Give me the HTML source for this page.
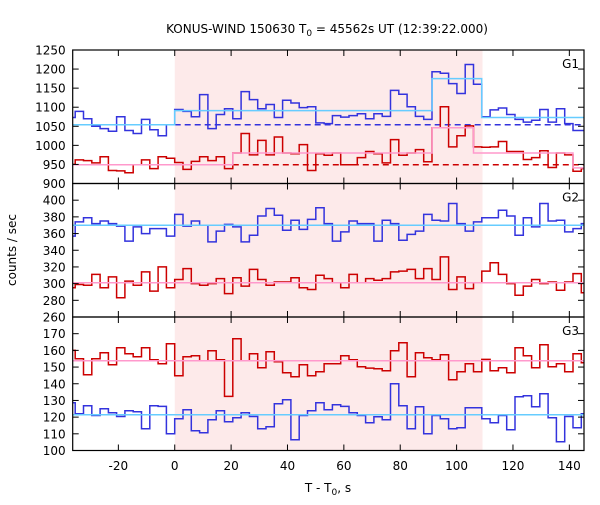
<!DOCTYPE html>
<html><head><meta charset="utf-8"><style>
body{margin:0;background:#fff;}
svg{font-family:"DejaVu Sans","Liberation Sans",sans-serif;font-size:12px;}
</style></head><body>
<svg id="chart" width="600" height="500" viewBox="0 0 600 500" xmlns="http://www.w3.org/2000/svg">
<rect width="600" height="500" fill="#fff"/>
<text x="327" y="33" text-anchor="middle" fill="#000">KONUS-WIND 150630 T<tspan font-size="9" dy="3">0</tspan><tspan dy="-3"> = 45562s UT (12:39:22.000)</tspan></text>
<text x="16" y="250" text-anchor="middle" transform="rotate(-90 16 250)" fill="#000">counts / sec</text>
<text x="328" y="492" text-anchor="middle" fill="#000">T - T<tspan font-size="9" dy="3">0</tspan><tspan dy="-3">, s</tspan></text>
<g id="layer"></g>
</svg>
<script>
const binWidth = 2.944;
const firstBinIndex = -13;
const xTicks = [-20, 0, 20, 40, 60, 80, 100, 120, 140];
const interval = [0, 109.2];
const g1Ticks = [900, 950, 1000, 1050, 1100, 1150, 1200, 1250];
const g2Ticks = [260, 280, 300, 320, 340, 360, 380, 400];
const g3Ticks = [100, 110, 120, 130, 140, 150, 160, 170];
const g1Blue = [1073,1089,1070,1050,1044,1037,1075,1039,1031,1068,1041,1025,1054,1094,1089,1075,1133,1044,1081,1096,1070,1141,1120,1096,1107,1073,1118,1111,1099,1101,1059,1057,1078,1074,1078,1083,1070,1083,1076,1144,1134,1101,1076,1068,1193,1189,1162,1136,1212,1160,1075,1093,1098,1081,1068,1061,1066,1094,1061,1096,1057,1039,1039];
const g1Red = [950,962,960,954,970,934,933,928,949,962,939,970,966,955,937,958,970,960,970,939,980,1031,975,1013,975,1022,980,978,1002,934,978,974,980,949,949,968,984,978,954,1015,974,980,989,957,1046,1101,996,1025,1051,996,995,996,1010,984,984,963,968,986,942,980,975,932,939];
const g2Blue = [357,374,379,372,375,372,369,351,368,360,366,366,357,383,369,375,370,350,363,371,368,350,358,381,390,382,364,376,365,377,391,372,351,362,375,372,372,351,376,372,352,359,363,383,376,375,396,372,363,374,379,379,388,381,358,379,368,396,375,376,362,366,372];
const g2Red = [295,299,298,311,295,308,283,303,298,314,291,320,295,305,318,300,298,300,306,288,307,297,317,305,298,302,302,307,295,293,310,306,301,295,311,301,306,304,306,314,315,317,306,318,305,332,293,308,294,301,315,325,311,300,286,297,305,300,302,292,302,312,289];
const g3Red = [160,155,145.4,155,158.6,151.4,161.6,158,156.2,161.6,154.4,152,164,144.8,156.2,156.8,153.8,159.8,154.4,132.4,167,153.8,158,149.6,159.2,153.2,146.6,144.2,151.4,144.8,147.2,152,152,156.8,154.4,150.2,149.4,149,147.8,159.8,164.6,144.2,158.6,155.6,154.4,157.4,142.4,147.2,152,147.2,154.6,147.8,149.6,146.6,161.6,156.8,149.6,163.4,150.2,152,147.2,158,152.6];
const g3Blue = [128.6,122,126.8,121,125,122.6,120.4,123.8,123.2,113,126.8,126.4,110,119,124.4,111.8,110.6,118.4,123.8,117.2,119.6,122.6,120.4,113,114.2,128,130.4,106.4,121,123.8,128.6,124.4,127.4,126.4,122.6,121,116.6,120.2,118.4,140,126.8,113,126.2,110,121,119,113,113.6,125.6,125.6,119,116.6,121,112.4,132.2,132.8,126.2,134,119.6,105.2,120.4,113.6,122];
// fits: [start, end, value]
const g1BlueFit = [[-36.2,0,1054],[0,91.3,1091],[91.3,108.9,1175],[108.9,145.2,1073]];
const g1BlueBg = [[0,145.2,1054]];
const g1RedFit = [[-36.2,20.6,949],[20.6,91.3,980],[91.3,106,1046],[106,141.3,980],[141.3,145.2,941]];
const g1RedBg = [[20.6,145.2,949]];
const g2BlueFit = [[-36.2,145.2,370]];
const g2RedFit = [[-36.2,145.2,301]];
const g3RedFit = [[-36.2,145.2,153.8]];
const g3BlueFit = [[-36.2,145.2,121.4]];

const NS = "http://www.w3.org/2000/svg";
const layer = document.getElementById('layer');
const X0 = 72.7, X1 = 584, TMIN = -36.2, TMAX = 145.2;
const xs = t => X0 + (t - TMIN) / (TMAX - TMIN) * (X1 - X0);
const panels = [
  {name:'g1', top:50, bot:183.5, min:900, max:1250, ticks:g1Ticks, label:'G1'},
  {name:'g2', top:183.5, bot:317, min:260, max:420, ticks:g2Ticks, label:'G2'},
  {name:'g3', top:317, bot:450.5, min:100, max:180, ticks:g3Ticks, label:'G3'}
];
panels.forEach(p => { p.ys = v => p.bot - (v - p.min) / (p.max - p.min) * (p.bot - p.top); });
function mk(tag, attrs, parent) { const e = document.createElementNS(NS, tag); for (const k in attrs) e.setAttribute(k, attrs[k]); (parent||layer).appendChild(e); return e; }

// shading
const sh = mk('rect', {x: xs(interval[0]), y: 50, width: xs(interval[1]) - xs(interval[0]), height: 400.5, fill: '#fdeaea'});



function hist(p, vals, color, name) {
  let d = '';
  vals.forEach((v, i) => {
    let a = Math.max(TMIN, (i + firstBinIndex) * binWidth), b = Math.min(TMAX, (i + firstBinIndex + 1) * binWidth);
    if (b <= a) return;
    const y = p.ys(v).toFixed(1);
    d += (d ? 'V' + y : 'M' + xs(a).toFixed(1) + ',' + y) + 'H' + xs(b).toFixed(1);
  });
  const e = mk('path', {d: d, fill: 'none', stroke: color, 'stroke-width': 1.5});
  
  
}
function fit(p, segs, color, name, dash) {
  let d = '';
  segs.forEach((s, i) => {
    const y = p.ys(s[2]).toFixed(1);
    d += (i === 0 ? 'M' + xs(s[0]).toFixed(1) + ',' + y : 'V' + y) + 'H' + xs(s[1]).toFixed(1);
  });
  const e = mk('path', {d: d, fill: 'none', stroke: color, 'stroke-width': 1.5});
  if (dash) e.setAttribute('stroke-dasharray', '6,4');
  
  
}
const P = panels;
fit(P[0], g1BlueBg, '#3333dd', 'g1-blue-background-dashed', true);
fit(P[0], g1RedBg, '#cc0000', 'g1-red-background-dashed', true);
hist(P[0], g1Blue, '#3333dd', 'g1-blue-histogram');
hist(P[0], g1Red, '#cc0000', 'g1-red-histogram');
fit(P[0], g1BlueFit, '#66ccff', 'g1-blue-fit');
fit(P[0], g1RedFit, '#ff99cc', 'g1-red-fit');
hist(P[1], g2Blue, '#3333dd', 'g2-blue-histogram');
hist(P[1], g2Red, '#cc0000', 'g2-red-histogram');
fit(P[1], g2BlueFit, '#66ccff', 'g2-blue-fit');
fit(P[1], g2RedFit, '#ff99cc', 'g2-red-fit');
hist(P[2], g3Red, '#cc0000', 'g3-red-histogram');
hist(P[2], g3Blue, '#3333dd', 'g3-blue-histogram');
fit(P[2], g3RedFit, '#ff99cc', 'g3-red-fit');
fit(P[2], g3BlueFit, '#66ccff', 'g3-blue-fit');

// axes
panels.forEach(p => {
  const fr = mk('rect', {x: X0, y: p.top, width: X1 - X0, height: p.bot - p.top, fill: 'none', stroke: '#000', 'stroke-width': 1.2});
  
  
  xTicks.forEach(t => {
    const x = xs(t);
    mk('line', {x1: x, x2: x, y1: p.top, y2: p.top + 6, stroke: '#000', 'stroke-width': 1});
    mk('line', {x1: x, x2: x, y1: p.bot, y2: p.bot - 6, stroke: '#000', 'stroke-width': 1});
  });
  p.ticks.forEach(v => {
    const y = p.ys(v);
    mk('line', {x1: X0, x2: X0 + 6, y1: y, y2: y, stroke: '#000', 'stroke-width': 1});
    mk('line', {x1: X1, x2: X1 - 6, y1: y, y2: y, stroke: '#000', 'stroke-width': 1});
    const tl = mk('text', {x: X0 - 7, y: y + 4.5, 'text-anchor': 'end', fill: '#000'});
    tl.textContent = v;
    
    
  });
  const lb = mk('text', {x: X1 - 5, y: p.top + 18, 'text-anchor': 'end', fill: '#000'});
  lb.textContent = p.label;
  
  
});
xTicks.forEach(t => {
  const tl = mk('text', {x: xs(t), y: 470, 'text-anchor': 'middle', fill: '#000'});
  tl.textContent = t;
  
  
});
</script>
</body></html>
